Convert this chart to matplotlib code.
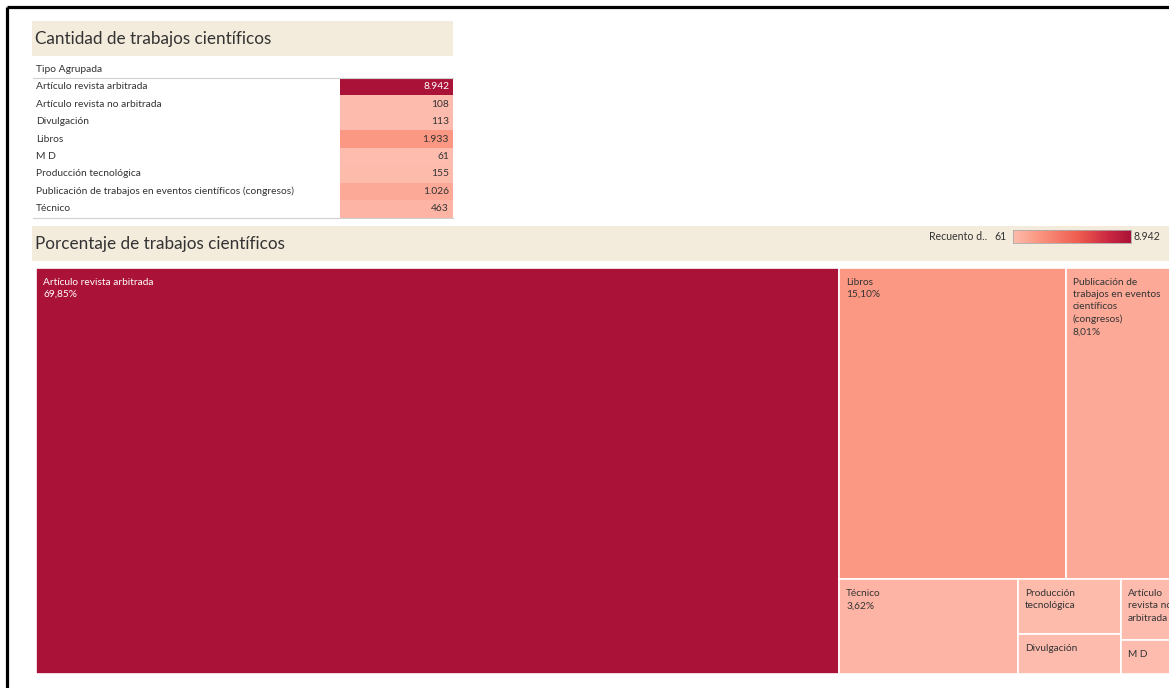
import matplotlib
matplotlib.use("Agg")
import matplotlib.pyplot as plt
import numpy as np
from matplotlib.colors import LinearSegmentedColormap, Normalize
from matplotlib.patches import Rectangle

plt.rcParams['font.family'] = ['Lato', 'DejaVu Sans']

# counts per grouped type
tipos = [
    "Artículo revista arbitrada",
    "Artículo revista no arbitrada",
    "Divulgación",
    "Libros",
    "M D",
    "Producción tecnológica",
    "Publicación de trabajos en eventos científicos (congresos)",
    "Técnico",
]
recuento = [8942, 108, 113, 1933, 61, 155, 1026, 463]

# wrapped names for the treemap tiles
tile_names = {
    "Artículo revista arbitrada": "Artículo revista arbitrada",
    "Artículo revista no arbitrada": "Artículo\nrevista no\narbitrada",
    "Divulgación": "Divulgación",
    "Libros": "Libros",
    "M D": "M D",
    "Producción tecnológica": "Producción\ntecnológica",
    "Publicación de trabajos en eventos científicos (congresos)":
        "Publicación de\ntrabajos en eventos\ncientíficos\n(congresos)",
    "Técnico": "Técnico",
}
show_pct = ["Artículo revista arbitrada", "Libros",
            "Publicación de trabajos en eventos científicos (congresos)", "Técnico"]

# nested slice layout: ('h' = side by side, 'v' = stacked)
layout = ('h', [
    "Artículo revista arbitrada",
    ('v', [
        ('h', ["Libros", "Publicación de trabajos en eventos científicos (congresos)"]),
        ('h', [
            "Técnico",
            ('v', ["Producción tecnológica", "Divulgación"]),
            ('v', ["Artículo revista no arbitrada", "M D"]),
        ]),
    ]),
])

values = dict(zip(tipos, recuento))
total = sum(recuento)

cmap = LinearSegmentedColormap.from_list(
    "rojos", [(0.0, "#fdbcae"), (0.2, "#fb9984"), (0.55, "#ef5d50"),
              (0.8, "#cc2a42"), (1.0, "#ab1237")])
norm = Normalize(vmin=min(recuento), vmax=max(recuento))

W, H = 1169, 688
fig = plt.figure(figsize=(W / 100, H / 100), dpi=100)


def px_axes(x0, y0, x1, y1):
    return fig.add_axes([x0 / W, 1 - y1 / H, (x1 - x0) / W, (y1 - y0) / H])


bg = px_axes(0, 0, W, H)
bg.set_xlim(0, W)
bg.set_ylim(H, 0)
bg.axis('off')

# frame
bg.plot([7, 7], [7, H], color='black', lw=2.3, solid_capstyle='butt')
bg.plot([7, W], [7, 7], color='black', lw=2.3, solid_capstyle='butt')

beige = "#f3ebdb"
txt = "#333333"

# table section
bg.add_patch(Rectangle((32, 21), 421, 35, color=beige, lw=0))
bg.text(35, 39, "Cantidad de trabajos científicos", fontsize=12.3, color=txt, va='center')
bg.text(36, 70, "Tipo Agrupada", fontsize=7.4, color=txt, va='center')
row_h = 17.45
top = 78
bg.plot([33, 453], [top - 0.5, top - 0.5], color="#d0d0d0", lw=0.8)
for i, (t, v) in enumerate(zip(tipos, recuento)):
    y = top + i * row_h
    bg.add_patch(Rectangle((340, y), 113, row_h, color=cmap(norm(v)), lw=0))
    bg.text(36, y + row_h / 2, t, fontsize=7.4, color=txt, va='center')
    col = 'white' if norm(v) > 0.5 else txt
    bg.text(449, y + row_h / 2, f"{v:,}".replace(',', '.'), fontsize=7.4,
            color=col, va='center', ha='right')
bottom = top + len(tipos) * row_h
bg.plot([33, 453], [bottom, bottom], color="#d0d0d0", lw=0.8)

# treemap section header
bg.add_patch(Rectangle((32, 226), W - 32, 35, color=beige, lw=0))
bg.text(35, 244, "Porcentaje de trabajos científicos", fontsize=12.3, color=txt, va='center')
bg.text(987, 237, "Recuento d..", fontsize=7.6, color=txt, va='center', ha='right')
bg.text(1007, 237, f"{min(recuento)}", fontsize=7.6, color=txt, va='center', ha='right')
bg.text(1134, 237, f"{max(recuento):,}".replace(',', '.'), fontsize=7.6, color=txt, va='center')

cax = px_axes(1013, 230, 1131, 243)
cax.imshow(np.linspace(0, 1, 256)[None, :], aspect='auto', cmap=cmap)
cax.set_xticks([])
cax.set_yticks([])
for s in cax.spines.values():
    s.set_color("#aaaaaa")
    s.set_linewidth(0.6)

# treemap
tm = px_axes(36, 268, 1186, 674)
tm.set_xlim(0, 1150)
tm.set_ylim(406, 0)
tm.axis('off')


def node_value(node):
    if isinstance(node, str):
        return values[node]
    return sum(node_value(c) for c in node[1])


def place(node, x, y, w, h):
    if isinstance(node, str):
        yield node, x, y, w, h
        return
    orient, kids = node
    s = node_value(node)
    pos = 0.0
    for k in kids:
        f = node_value(k) / s
        if orient == 'h':
            yield from place(k, x + pos * w, y, f * w, h)
        else:
            yield from place(k, x, y + pos * h, w, f * h)
        pos += f


for name, x, y, w, h in place(layout, 0, 0, 1150, 406):
    v = values[name]
    tm.add_patch(Rectangle((x, y), w, h, facecolor=cmap(norm(v)),
                           edgecolor='white', lw=1.2))
    label = tile_names[name]
    if name in show_pct:
        label += "\n" + f"{v / total * 100:.2f}".replace('.', ',') + "%"
    col = 'white' if norm(v) > 0.5 else txt
    tm.text(x + 7, y + 10, label, fontsize=7.3, color=col, va='top', ha='left',
            linespacing=1.45, clip_on=True)

fig.savefig("out.png", dpi=100)
